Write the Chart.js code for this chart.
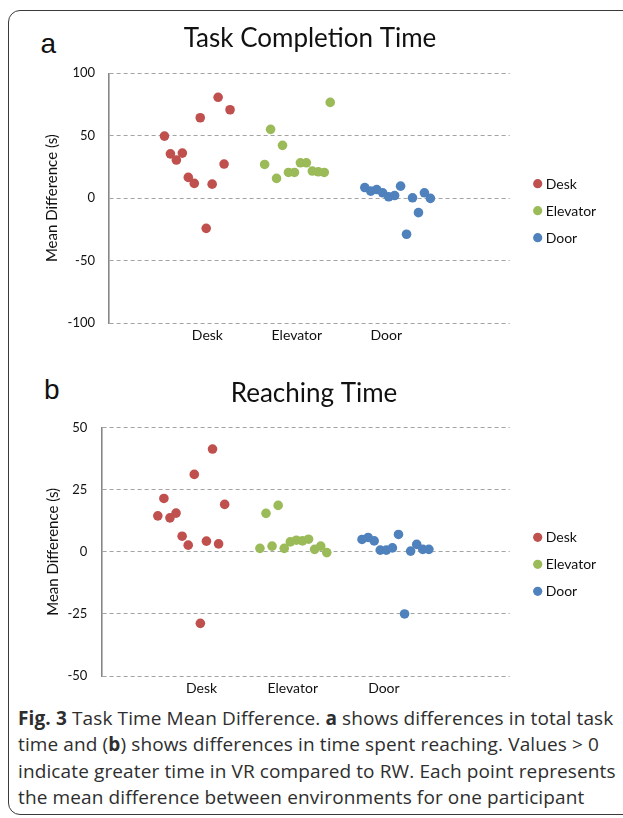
<!DOCTYPE html>
<html>
<head>
<meta charset="utf-8">
<title>Task Time Mean Difference</title>
<script src="https://cdn.jsdelivr.net/npm/chart.js@4.4.1/dist/chart.umd.min.js"></script>
<style>
  html, body { margin: 0; padding: 0; background: #fff; }
  body { width: 623px; height: 818px; position: relative; overflow: hidden; font-family: Lato, "Open Sans", sans-serif; }
  .frame { position: absolute; left: 8px; top: 10px; width: 680px; height: 805px; border: 1.5px solid #3a3a3a; border-radius: 12px; box-sizing: border-box; }
  .panel { position: absolute; left: 0; }
  .letter { position: absolute; font-family: "Liberation Sans", Arial, sans-serif; font-size: 28px; line-height: 28px; color: #111; }
  .caption { position: absolute; left: 18px; font-family: "Open Sans", Lato, sans-serif; font-size: 19px; letter-spacing: 0.12px; line-height: 26px; color: #2e2e2e; white-space: nowrap; }
</style>
</head>
<body>
<div class="frame"></div>
<div class="letter" style="left:40.5px; top:29.5px;">a</div>
<div class="letter" style="left:44px; top:375.5px;">b</div>
<canvas id="chartA" class="panel" width="623" height="360" style="top:0; width:623px; height:360px;"></canvas>
<canvas id="chartB" class="panel" width="623" height="340" style="top:360px; width:623px; height:340px;"></canvas>
<div class="caption" style="top:705px;"><b>Fig. 3</b> Task Time Mean Difference. <b>a</b> shows differences in total task</div>
<div class="caption" style="top:731px;">time and (<b>b</b>) shows differences in time spent reaching. Values &gt; 0</div>
<div class="caption" style="top:757.5px;">indicate greater time in VR compared to RW. Each point represents</div>
<div class="caption" style="top:784px;">the mean difference between environments for one participant</div>

<script>
// categories and where their labels sit on the x axis
const categories = ["Desk", "Elevator", "Door"];
const categoryTickX = [8.2, 23.2, 38.2];

// participant slots along x for each group
const deskX = [1, 2, 3, 4, 5, 6, 7, 8, 9, 10, 11, 12];
const elevatorX = [17.8, 18.8, 19.8, 20.8, 21.8, 22.8, 23.8, 24.8, 25.8, 26.8, 27.8, 28.8];
const doorX = [34.6, 35.6, 36.6, 37.6, 38.6, 39.6, 40.6, 41.6, 42.6, 43.6, 44.6, 45.6];

// (a) Task Completion Time, mean difference (s)
const taskDesk = [49.7, 35.5, 30.5, 36.1, 16.6, 11.8, 64.4, -24.2, 11.2, 80.8, 27.3, 70.8];
const taskElevator = [27.0, 55.1, 15.8, 42.3, 20.6, 20.6, 28.3, 28.3, 21.7, 21.1, 20.6, 76.7];
const taskDoor = [8.5, 5.6, 6.9, 4.3, 1.1, 2.1, 9.6, -28.9, 0.3, -11.6, 4.3, -0.2];

// (b) Reaching Time, mean difference (s)
const reachDesk = [14.5, 21.5, 13.7, 15.6, 6.3, 2.7, 31.2, -28.8, 4.3, 41.4, 3.2, 19.1];
const reachElevator = [1.4, 15.5, 2.3, 18.7, 1.4, 4.0, 4.7, 4.4, 5.1, 1.0, 2.3, -0.3];
const reachDoor = [5.0, 5.8, 4.4, 0.7, 0.7, 1.6, 7.0, -25.0, 0.3, 3.0, 1.0, 1.0];

const yTicksA = [-100, 100, 50];   // min, max, step
const yTicksB = [-50, 50, 25];

const seriesColors = ["#C0504D", "#9BBB59", "#4F81BD"];

function toPoints(xs, ys) {
  return xs.map((x, i) => ({ x, y: ys[i] }));
}

// title + legend drawn at fixed spots beside the plot
const decorPlugin = {
  id: "decor",
  afterDraw(chart, args, opts) {
    const { ctx, chartArea } = chart;
    ctx.save();
    ctx.fillStyle = "#111";
    ctx.font = "26px Lato";
    ctx.textAlign = "center";
    ctx.textBaseline = "alphabetic";
    ctx.fillText(opts.title, opts.titleX, opts.titleY);

    ctx.font = "14px Lato";
    ctx.textAlign = "left";
    ctx.textBaseline = "middle";
    const midY = (chartArea.top + chartArea.bottom) / 2 + 12.5;
    chart.data.datasets.forEach((ds, i) => {
      const y = midY + (i - 1) * 27;
      ctx.beginPath();
      ctx.arc(chartArea.right + 28, y, 4.6, 0, Math.PI * 2);
      ctx.fillStyle = ds.backgroundColor;
      ctx.fill();
      ctx.fillStyle = "#111";
      ctx.fillText(ds.label, chartArea.right + 36, y + 0.5);
    });
    ctx.restore();
  }
};

function makeChart(canvasId, series, yTicks, cfg) {
  const canvas = document.getElementById(canvasId);
  const xsets = [deskX, elevatorX, doorX];
  return new Chart(canvas.getContext("2d"), {
    type: "scatter",
    data: {
      datasets: categories.map((name, i) => ({
        label: name,
        data: toPoints(xsets[i], series[i]),
        backgroundColor: seriesColors[i],
        borderWidth: 0,
        pointRadius: 4.8,
        pointHoverRadius: 4.8
      }))
    },
    options: {
      responsive: false,
      animation: false,
      events: [],
      layout: { padding: { top: cfg.top, right: 113.3, left: 0, bottom: 0 } },
      plugins: {
        legend: { display: false },
        tooltip: { enabled: false },
        decor: { title: cfg.title, titleX: cfg.titleX, titleY: cfg.titleY }
      },
      scales: {
        x: {
          type: "linear",
          min: -8.3,
          max: 58.9,
          afterBuildTicks: axis => { axis.ticks = categoryTickX.map(v => ({ value: v })); },
          afterFit: axis => { axis.height = cfg.xHeight; },
          grid: { display: false, drawTicks: false },
          border: { display: false },
          ticks: {
            autoSkip: false,
            maxRotation: 0,
            padding: 4,
            color: "#111",
            font: { family: "Lato", size: 14 },
            callback: (v, i) => categories[i]
          }
        },
        y: {
          min: yTicks[0],
          max: yTicks[1],
          afterFit: axis => { axis.width = cfg.yWidth; },
          grid: { color: "#a3a3a3", lineWidth: 1, drawTicks: false },
          border: { display: true, color: "#878787", width: 1.6, dash: [4, 3] },
          ticks: {
            stepSize: yTicks[2],
            padding: 14,
            color: "#111",
            font: { family: "Lato", size: 13 }
          },
          title: {
            display: true,
            text: "Mean Difference (s)",
            color: "#111",
            font: { family: "Lato", size: 15 },
            padding: { top: cfg.yTitlePad, bottom: 0 }
          }
        }
      }
    },
    plugins: [decorPlugin]
  });
}

makeChart("chartA", [taskDesk, taskElevator, taskDoor], yTicksA, {
  title: "Task Completion Time", titleX: 310, titleY: 46.7,
  top: 73.3, xHeight: 37, yWidth: 109, yTitlePad: 42.7
});

makeChart("chartB", [reachDesk, reachElevator, reachDoor], yTicksB, {
  title: "Reaching Time", titleX: 314, titleY: 41.7,
  top: 67.7, xHeight: 24, yWidth: 101.3, yTitlePad: 43.8
});
</script>
</body>
</html>
